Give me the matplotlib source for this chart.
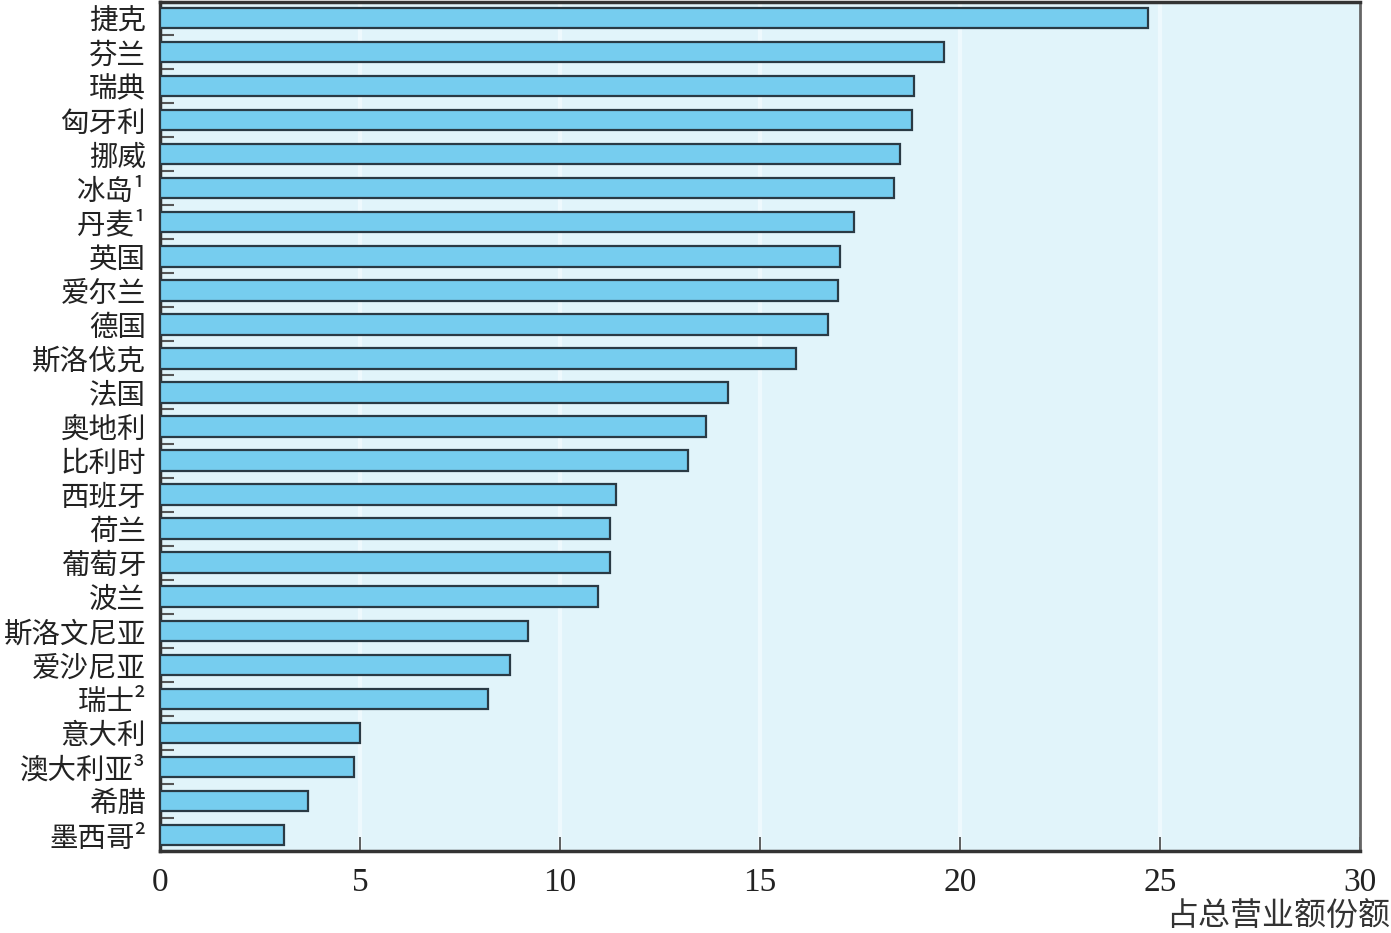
import matplotlib
matplotlib.use("Agg")
import matplotlib.pyplot as plt
import numpy as np

plt.rcParams['font.family'] = ['Noto Sans CJK SC', 'DejaVu Sans']

countries = ["捷克", "芬兰", "瑞典", "匈牙利", "挪威", "冰岛¹", "丹麦¹", "英国", "爱尔兰",
             "德国", "斯洛伐克", "法国", "奥地利", "比利时", "西班牙", "荷兰", "葡萄牙", "波兰",
             "斯洛文尼亚", "爱沙尼亚", "瑞士²", "意大利", "澳大利亚³", "希腊", "墨西哥²"]
values = [24.7, 19.6, 18.85, 18.8, 18.5, 18.35, 17.35, 17.0, 16.95, 16.7, 15.9, 14.2, 13.65,
          13.2, 11.4, 11.25, 11.25, 10.95, 9.2, 8.75, 8.2, 5.0, 4.85, 3.7, 3.1]
xticks = [0, 5, 10, 15, 20, 25, 30]
xlabel = "占总营业额份额"

fig = plt.figure(figsize=(13.91, 9.33), dpi=100)
ax = fig.add_axes([160/1391, 1-851/933, 1200/1391, 849/933])
ax.set_facecolor('#e1f4fa')

y = np.arange(len(countries))
ax.barh(y, values, height=0.6, color='#76cdef', edgecolor='#2a3a44', linewidth=1.6, zorder=3)

ax.set_xlim(0, 30)
ax.set_ylim(len(countries) - 0.53, -0.47)
for xv in xticks[1:-1]:
    ax.axvline(xv, color='#eef9fd', lw=3, zorder=1)

ax.set_yticks(y)
ax.set_yticklabels(countries, fontsize=20.5, color='#222222')
ax.set_yticks(y[:-1] + 0.5, minor=True)
ax.tick_params(axis='y', which='major', length=0, pad=10)
ax.tick_params(axis='y', which='minor', direction='in', length=10, width=1.5, color='#555555')

ax.set_xticks(xticks)
ax.set_xticklabels([str(v) for v in xticks], fontsize=24, family='Liberation Serif', color='#222222')
ax.tick_params(axis='x', direction='in', length=10, width=1.2, color='#444444', pad=12)

for side in ['left', 'bottom', 'top']:
    ax.spines[side].set_color('#333333')
    ax.spines[side].set_linewidth(2.5)
ax.spines['right'].set_color('#666666')
ax.spines['right'].set_linewidth(2)

fig.text(1390/1391, 1-916/933, xlabel, ha='right', va='center', fontsize=23, color='#333333')

fig.savefig('out.png', dpi=100, facecolor='white')
